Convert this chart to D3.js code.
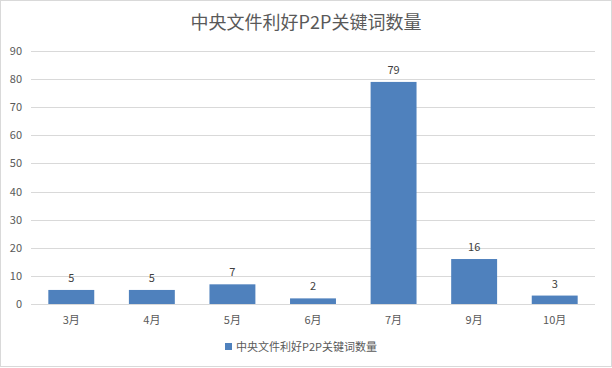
<!DOCTYPE html>
<html>
<head>
<meta charset="utf-8">
<script src="https://cdn.jsdelivr.net/npm/d3@7"></script>
<style>
  body { margin: 0; background: #fff; }
  text { font-family: "Noto Sans CJK SC", "Noto Sans", sans-serif; }
</style>
</head>
<body>
<svg id="chart" width="612" height="368"></svg>
<script>
const months = ["3月", "4月", "5月", "6月", "7月", "9月", "10月"];
const counts = [5, 5, 7, 2, 79, 16, 3];
const yTicks = [0, 10, 20, 30, 40, 50, 60, 70, 80, 90];
const title = "中央文件利好P2P关键词数量";

const plot = {left: 31, right: 595, top: 51, bottom: 304};

const svg = d3.select("#chart");

// outer border
svg.append("rect")
    .attr("x", 0.5).attr("y", 0.5)
    .attr("width", 611).attr("height", 366)
    .attr("fill", "#fff")
    .attr("stroke", "#d9d9d9");

const x = d3.scaleBand()
    .domain(months)
    .range([plot.left, plot.right])
    .paddingInner(0.43)
    .paddingOuter(0.215);

const y = d3.scaleLinear()
    .domain([0, 90])
    .range([plot.bottom, plot.top]);

// gridlines
svg.append("g")
    .selectAll("line")
    .data(yTicks)
    .enter()
    .append("line")
    .attr("x1", plot.left)
    .attr("x2", plot.right)
    .attr("y1", d => Math.round(y(d)) + 0.5)
    .attr("y2", d => Math.round(y(d)) + 0.5)
    .attr("stroke", "#d9d9d9")
    .attr("stroke-width", 1);

// y tick labels
svg.append("g")
    .selectAll("text")
    .data(yTicks)
    .enter()
    .append("text")
    .attr("x", 22)
    .attr("y", d => y(d) + 4)
    .attr("text-anchor", "end")
    .attr("font-size", 11)
    .attr("fill", "#595959")
    .text(d => d);

// bars
svg.append("g")
    .selectAll("rect")
    .data(counts)
    .enter()
    .append("rect")
    .attr("x", (d, i) => x(months[i]))
    .attr("y", d => y(d))
    .attr("width", x.bandwidth())
    .attr("height", d => y(0) - y(d))
    .attr("fill", "#4f81bd");

// data labels
svg.append("g")
    .selectAll("text")
    .data(counts)
    .enter()
    .append("text")
    .attr("x", (d, i) => x(months[i]) + x.bandwidth() / 2)
    .attr("y", d => y(d) - 8)
    .attr("text-anchor", "middle")
    .attr("font-size", 11)
    .attr("fill", "#404040")
    .text(d => d);

// x labels
svg.append("g")
    .selectAll("text")
    .data(months)
    .enter()
    .append("text")
    .attr("x", d => x(d) + x.bandwidth() / 2)
    .attr("y", 324)
    .attr("text-anchor", "middle")
    .attr("font-size", 11)
    .attr("fill", "#595959")
    .text(d => d);

// title
svg.append("text")
    .attr("x", 306)
    .attr("y", 29)
    .attr("text-anchor", "middle")
    .attr("font-size", 18)
    .attr("fill", "#595959")
    .text(title);

// legend
svg.append("rect")
    .attr("x", 225).attr("y", 343)
    .attr("width", 7).attr("height", 7)
    .attr("fill", "#4f81bd");
svg.append("text")
    .attr("x", 236)
    .attr("y", 351)
    .attr("font-size", 11)
    .attr("fill", "#595959")
    .text(title);
</script>
</body>
</html>
